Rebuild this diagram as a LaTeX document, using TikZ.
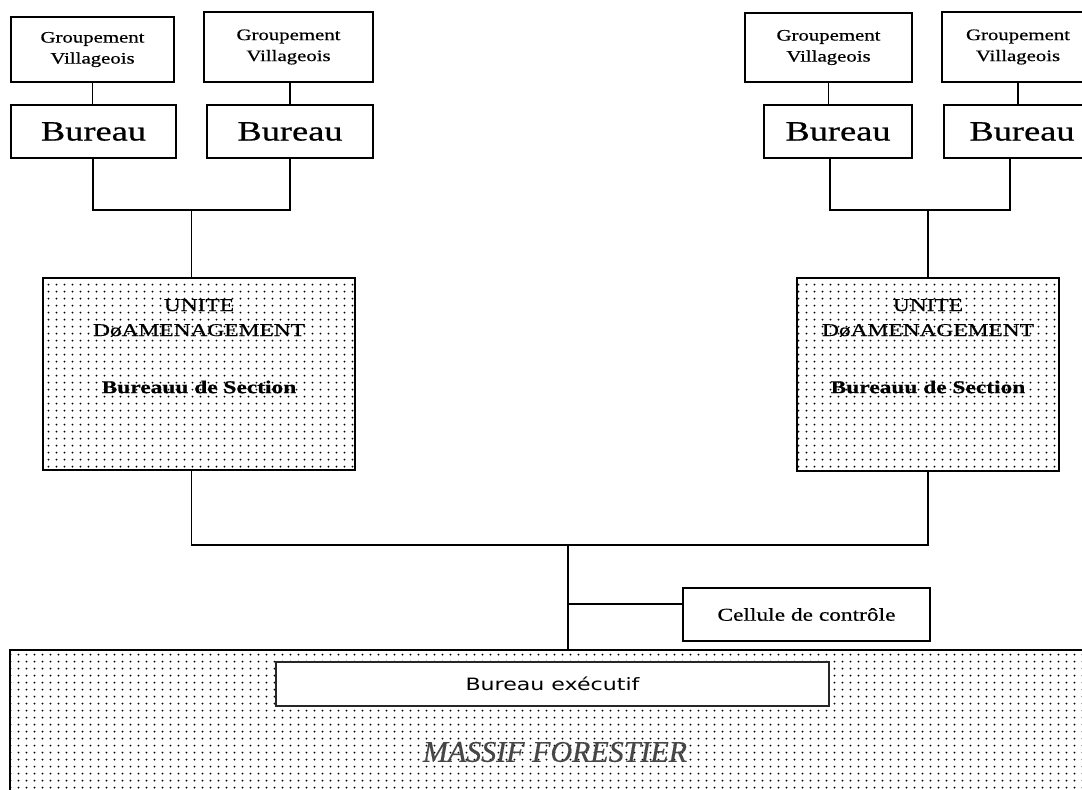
\documentclass[tikz,border=0pt]{standalone}
\usepackage{fontspec}
\setmainfont{Liberation Serif}[FakeStretch=1.3,FakeBold=0.6]
\newfontfamily\plainserif{Liberation Serif}[FakeBold=0.4]
\newfontfamily\execsans{DejaVu Sans}[FakeStretch=1.3]
\usetikzlibrary{patterns.meta}
\tikzdeclarepattern{
  name=pdots,
  type=uncolored,
  bottom left={(0pt,0pt)},
  top right={(7.5pt,7.3pt)},
  tile size={(7.5pt,7.3pt)},
  code={\fill (3.75pt,3.65pt) circle (1.1pt);}
}
\begin{document}
\begin{tikzpicture}[x=1pt,y=-1pt,
  box/.style={draw=black, line width=1.7pt, fill=white, inner sep=0pt},
  dotbox/.style={draw=black, line width=1.7pt, pattern={pdots}, pattern color=black, inner sep=0pt},
  link/.style={line width=1.7pt},
  gvtext/.style={font=\fontsize{16}{21}\selectfont, align=center},
  burtext/.style={font=\fontsize{28}{32}\selectfont},
  unitext/.style={font=\fontsize{18}{25}\selectfont, align=center},
  sectext/.style={font=\bfseries\fontsize{18}{22}\selectfont}]
\clip (0,0) rectangle (1082,790);
\fill[white] (0,0) rectangle (1082,790);

% top left
\node[box, minimum width=163pt, minimum height=65pt, gvtext] (gv1) at (92.5,49.5) {Groupement\\Villageois};
\node[box, minimum width=169pt, minimum height=70pt, gvtext] (gv2) at (288.5,47) {Groupement\\Villageois};
\node[box, minimum width=165pt, minimum height=53pt, burtext] (b1) at (93.5,131.5) {Bureau};
\node[box, minimum width=166pt, minimum height=53pt, burtext] (b2) at (290,131.5) {Bureau};

% top right
\node[box, minimum width=167pt, minimum height=69pt, gvtext] (gv3) at (828.5,47.5) {Groupement\\Villageois};
\node[box, minimum width=152pt, minimum height=70pt, gvtext] (gv4) at (1018,47) {Groupement\\Villageois};
\node[box, minimum width=148pt, minimum height=53pt, burtext] (b3) at (838,131.5) {Bureau};
\node[box, minimum width=156pt, minimum height=53pt, burtext] (b4) at (1022,131.5) {Bureau};

% unite boxes
\node[dotbox, minimum width=312pt, minimum height=192pt] (uL) at (199,374) {};
\node[dotbox, minimum width=262pt, minimum height=193pt] (uR) at (928,374.5) {};
\node[unitext] (uLt) at (199,318) {UNITE\\DøAMENAGEMENT};
\node[sectext] (uLs) at (199,387) {Bureauu de Section};
\node[unitext] (uRt) at (928,318) {UNITE\\DøAMENAGEMENT};
\node[sectext] (uRs) at (928,387) {Bureauu de Section};

% cellule
\node[box, minimum width=247pt, minimum height=53pt, font=\fontsize{18}{22}\selectfont] (cell) at (806.5,614.5) {Cellule de contrôle};

% massif
\node[dotbox, minimum width=1090pt, minimum height=150pt] (massif) at (555,725) {};
\node[box, line width=1.4pt, draw=black!85, minimum width=553pt, minimum height=44pt, font=\execsans\fontsize{17}{20}\selectfont] (bexec) at (552.5,684) {Bureau exécutif};
\node[font=\plainserif\itshape\fontsize{30}{34}\selectfont, text=black!72] (mtext) at (555,752) {MASSIF FORESTIER};

% connectors top
\draw[link] (gv1.south) -- (gv1.south |- b1.north);
\draw[link] (b2.north) -- (b2.north |- gv2.south);
\draw[link] (gv3.south) -- (gv3.south |- b3.north);
\draw[link] (gv4.south) -- (gv4.south |- b4.north);

\coordinate (busL1) at (93,210);
\coordinate (busL2) at (290,210);
\coordinate (dropL) at (191.5,210);
\draw[link] (b1.south -| busL1) -- (busL1) -- (busL2) -- (b2.south -| busL2);
\draw[link] (dropL) -- (dropL |- uL.north);

\coordinate (busR1) at (830,210);
\coordinate (busR2) at (1010,210);
\coordinate (dropR) at (928,210);
\draw[link] (b3.south -| busR1) -- (busR1) -- (busR2) -- (b4.south -| busR2);
\draw[link] (dropR) -- (dropR |- uR.north);

% connectors bottom
\coordinate (botL) at (191.5,545);
\coordinate (botR) at (928,545);
\coordinate (mid) at (568,545);
\coordinate (br) at (568,604);
\draw[link] (uL.south -| botL) -- (botL) -- (botR) -- (uR.south -| botR);
\draw[link] (mid) -- (mid |- massif.north);
\draw[link] (br) -- (br -| cell.west);
\end{tikzpicture}
\end{document}
